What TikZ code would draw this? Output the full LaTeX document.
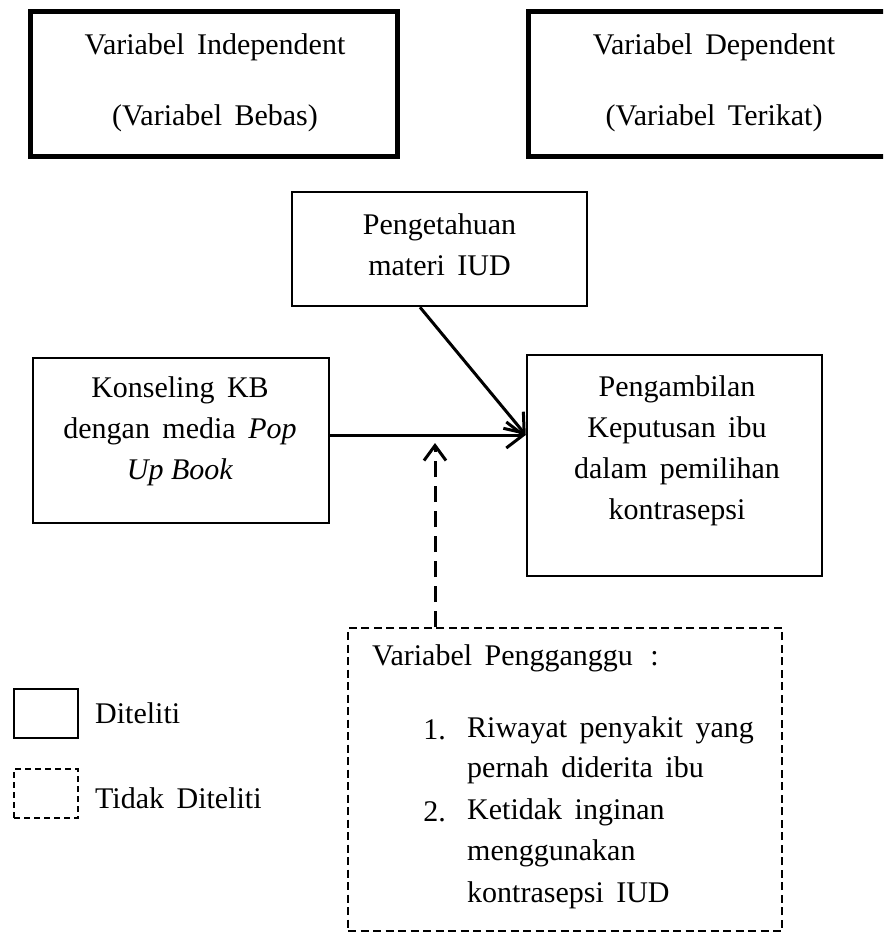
\documentclass[tikz,border=0pt]{standalone}
\usepackage{fontspec}
\setmainfont{Liberation Serif}
\usetikzlibrary{arrows.meta}
\begin{document}
\begin{tikzpicture}[x=1pt,y=-1pt,
  thickbox/.style={draw, line width=5pt},
  plainbox/.style={draw, line width=2.5pt},
  dbox/.style={draw, line width=2pt, dash pattern=on 8pt off 4.5pt},
  legsolid/.style={draw, line width=2pt},
  legdash/.style={draw, line width=2pt, dash pattern=on 6pt off 4pt},
  txt/.style={align=center, inner sep=0pt, font=\fontsize{30}{41}\selectfont},
  ltxt/.style={anchor=west, inner sep=0pt, font=\fontsize{30}{41}\selectfont},
  arr/.style={line width=3pt, -{Straight Barb[length=17pt,width=26pt]}},
  darr/.style={line width=3pt, dash pattern=on 16pt off 9pt, -{Straight Barb[length=15pt,width=22pt]}}
]
\useasboundingbox (0,0) rectangle (883,933);
\clip (0,0) rectangle (883,933);
\fill[white] (0,0) rectangle (883,933);

% top boxes
\path[thickbox] (30,12) rectangle (397,157);
\node[txt] (indep1) at (215,47) {Variabel\, Independent};
\node[txt] (indep2) at (215,118) {(Variabel\, Bebas)};
\path[thickbox] (528,12) rectangle (905,157);
\node[txt] (dep1) at (714,47) {Variabel\, Dependent};
\node[txt] (dep2) at (714,118) {(Variabel\, Terikat)};

% Pengetahuan
\node[plainbox, minimum width=295pt, minimum height=114pt, inner sep=0pt] (peng) at (439.5,249) {};
\node[txt] (pengtxt) at (439.5,245) {Pengetahuan\\materi\, IUD};

% Konseling
\node[plainbox, minimum width=296pt, minimum height=165pt, inner sep=0pt] (kons) at (181,440.5) {};
\node[txt] (konstxt) at (180,431) {Konseling\, KB\\dengan\, media\, \textit{Pop}\\\textit{Up Book}};

% Pengambilan
\node[plainbox, minimum width=295pt, minimum height=221pt, inner sep=0pt] (ambil) at (674.5,465.5) {};
\node[txt] (ambiltxt) at (677,451) {Pengambilan\\Keputusan\, ibu\\dalam\, pemilihan\\kontrasepsi};

% Variabel Pengganggu
\node[dbox, minimum width=434pt, minimum height=303pt, inner sep=0pt] (ganggu) at (565,779.5) {};
\node[ltxt] (gtitle) at (372,658) {Variabel\, Pengganggu\, \,:};
\node[anchor=east, inner sep=0pt, font=\fontsize{30}{41}\selectfont] (n1) at (446,730) {1.};
\node[ltxt] (i1a) at (467,730) {Riwayat\, penyakit\, yang};
\node[ltxt] (i1b) at (467,770) {pernah\, diderita\, ibu};
\node[anchor=east, inner sep=0pt, font=\fontsize{30}{41}\selectfont] (n2) at (446,812) {2.};
\node[ltxt] (i2a) at (467,812) {Ketidak\, inginan};
\node[ltxt] (i2b) at (467,853) {menggunakan};
\node[ltxt] (i2c) at (467,895) {kontrasepsi\, IUD};

% legend
\node[legsolid, minimum width=64pt, minimum height=49pt, inner sep=0pt] (legA) at (46,713.5) {};
\node[ltxt] (legAt) at (95,713) {Diteliti};
\node[legdash, minimum width=64pt, minimum height=49pt, inner sep=0pt] (legB) at (46,793.5) {};
\node[ltxt] (legBt) at (95,798) {Tidak\, Diteliti};

% connectors
\coordinate (meet) at (ambil.west |- 0,435);
\coordinate (dtip) at (435,443);
\draw[arr] (kons.east |- meet) -- (meet);
\draw[arr] ([xshift=-19.5pt]peng.south) -- (meet);
\draw[darr] (ganggu.north -| dtip) -- (dtip);
\end{tikzpicture}
\end{document}
